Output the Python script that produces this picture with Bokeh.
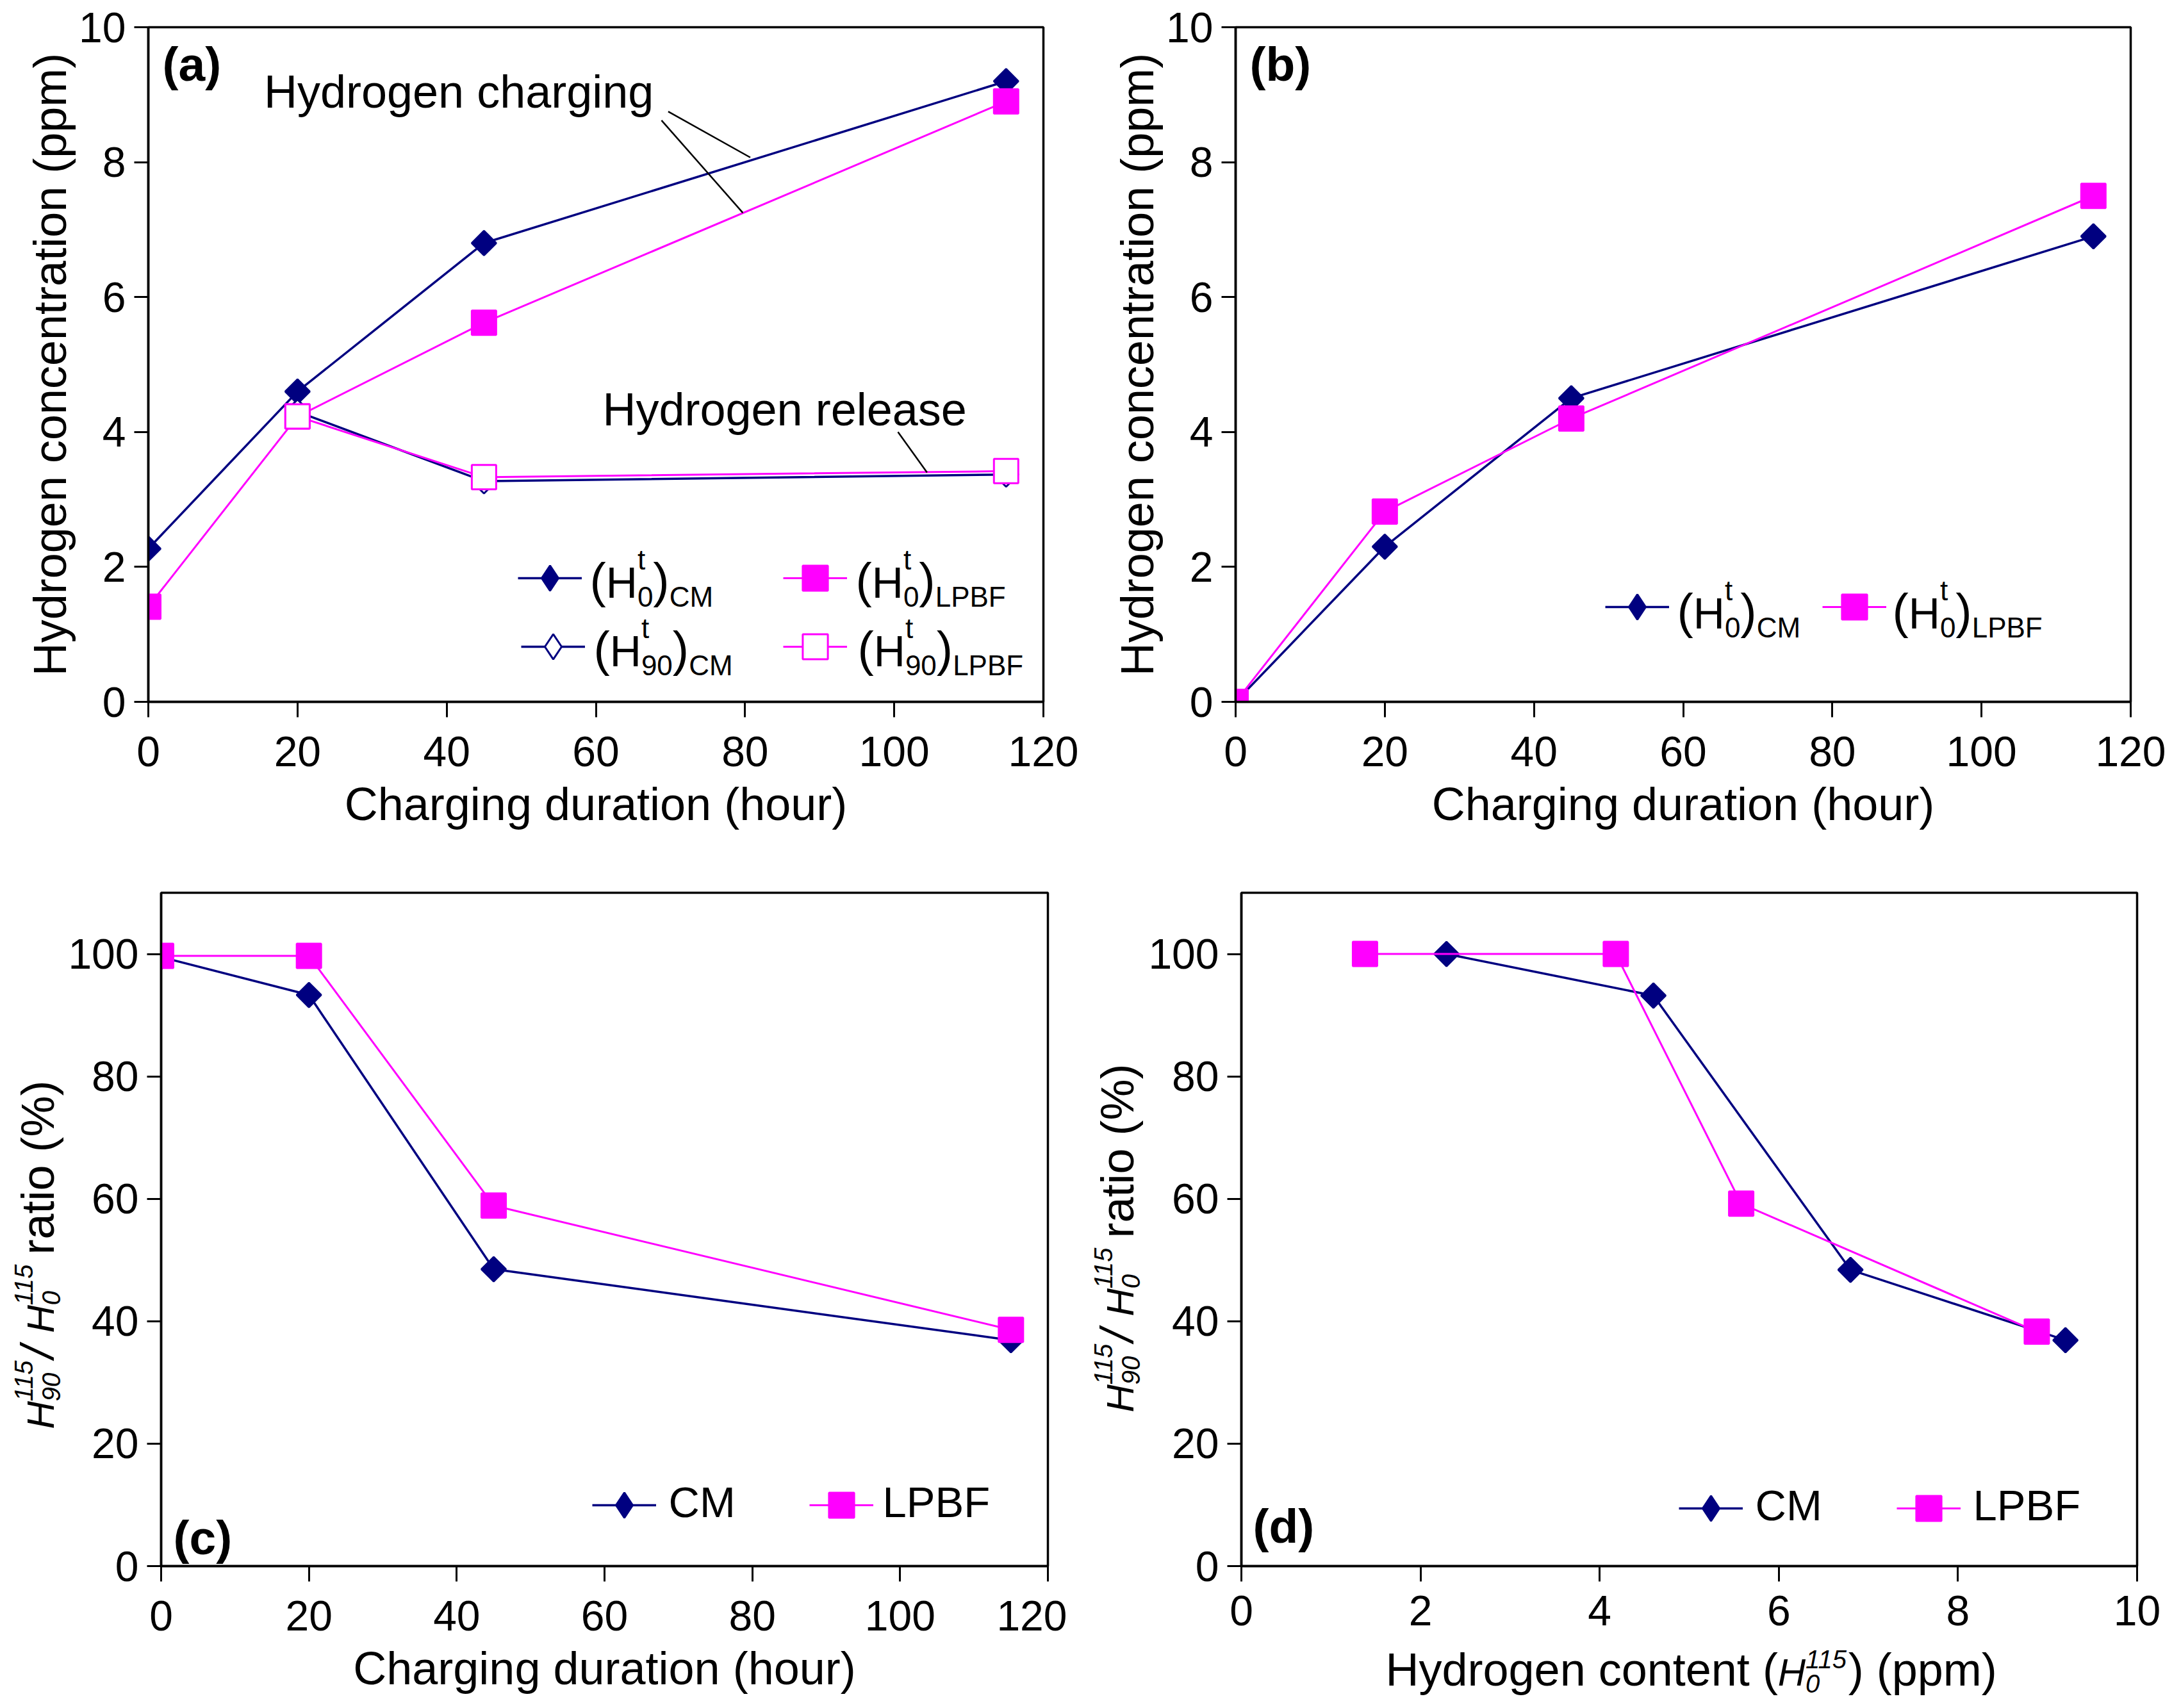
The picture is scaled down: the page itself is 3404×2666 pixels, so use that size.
import math
from bokeh.plotting import figure
from bokeh.models import Range1d, FixedTicker, Label, Arrow, Legend, LegendItem
from bokeh.layouts import column, row
from bokeh.embed import file_html
from bokeh.resources import INLINE

# ---------------- data ----------------
duration = [0, 20, 45, 115]
duration_release = [20, 45, 115]
a_h0_cm = [2.27, 4.6, 6.8, 9.2]
a_h0_lpbf = [1.41, 4.23, 5.62, 8.9]
a_h90_cm = [4.3, 3.27, 3.37]
a_h90_lpbf = [4.23, 3.33, 3.42]
b_h0_cm = [0.0, 2.3, 4.5, 6.9]
b_h0_lpbf = [0.0, 2.82, 4.2, 7.5]
c_ratio_cm = [99.5, 93.3, 48.5, 36.9]
c_ratio_lpbf = [99.7, 99.7, 58.9, 38.6]
d_content_cm = [2.29, 4.6, 6.8, 9.2]
d_ratio_cm = [100.0, 93.2, 48.4, 36.9]
d_content_lpbf = [1.38, 4.18, 5.58, 8.88]
d_ratio_lpbf = [100.0, 100.0, 59.2, 38.3]

dur_ticks = [0, 20, 40, 60, 80, 100, 120]
conc_ticks = [0, 2, 4, 6, 8, 10]
ratio_ticks = [0, 20, 40, 60, 80, 100]
content_ticks = [0, 2, 4, 6, 8, 10]

NAVY = "#000080"
MAG = "#FF00FF"
FONT = "Liberation Sans"
NAN = float("nan")

# Arial-metric advance widths (per 1000 em)
W = {' ': 278, '(': 333, ')': 333, '%': 889, '/': 278, 'B': 667, 'C': 722, 'F': 611,
     'H': 722, 'L': 556, 'M': 833, 'P': 667, 'a': 556, 'c': 500, 'd': 556, 'e': 556,
     'g': 556, 'h': 556, 'i': 222, 'l': 222, 'm': 833, 'n': 556, 'o': 556, 'p': 556,
     'r': 333, 's': 500, 't': 278, 'u': 556, 'y': 500}


def tw(s, size):
    return sum(W.get(ch, 556) for ch in s) * size / 1000.0


def put(p, x0, y0, text, size, xo, yo, style="normal", angle=0.0, color="black"):
    """(xo, yo) is the pixel offset of the text's baseline start; text drawn centred."""
    mid = 0.35 * size
    if angle == 0:
        xo2, yo2 = xo, yo + mid
    else:
        xo2, yo2 = xo - mid, yo
    p.add_layout(Label(x=x0, y=y0, x_offset=xo2, y_offset=yo2, text=text,
                       text_font=FONT, text_font_size=f"{size}px", text_font_style=style,
                       text_color=color, text_baseline="middle", text_align="left",
                       angle=angle))


def rich(p, x0, y0, pieces, ox, oy, angle=0.0, center=False):
    def adv(pc):
        if pc[0] == "t":
            return tw(pc[1], pc[2])
        if pc[0] == "gap":
            return pc[1]
        return max(tw(pc[1], pc[3]), tw(pc[2], pc[3]))
    total = sum(adv(pc) for pc in pieces)
    a = -total / 2.0 if center else 0.0

    def place(text, size, shift, style, a):
        if angle == 0:
            put(p, x0, y0, text, size, ox + a, oy + shift, style)
        else:
            put(p, x0, y0, text, size, ox - shift, oy + a, style, angle=angle)

    for pc in pieces:
        if pc[0] == "t":
            _, text, size, shift, style = pc
            place(text, size, shift, style, a)
        elif pc[0] == "s":
            _, sup, sub, size, s_up, s_dn, style = pc
            place(sup, size, s_up, style, a)
            place(sub, size, s_dn, style, a)
        a += adv(pc)


def make_fig(xr, yr, xt, yt, w, h, left, right, top, bottom):
    p = figure(width=w, height=h, x_range=Range1d(*xr), y_range=Range1d(*yr),
               output_backend="svg", toolbar_location=None,
               min_border_left=left, min_border_right=right,
               min_border_top=top, min_border_bottom=bottom)
    p.background_fill_color = "white"
    p.border_fill_color = "white"
    p.outline_line_color = "black"
    p.outline_line_width = 3.5
    p.xgrid.visible = False
    p.ygrid.visible = False
    p.xaxis.ticker = FixedTicker(ticks=xt)
    p.yaxis.ticker = FixedTicker(ticks=yt)
    for ax in p.xaxis + p.yaxis:
        ax.axis_line_width = 3.5
        ax.axis_line_color = "black"
        ax.major_tick_line_width = 3
        ax.major_tick_line_color = "black"
        ax.major_tick_in = 0
        ax.minor_tick_line_color = None
        ax.major_label_text_font = FONT
        ax.major_label_text_font_size = "66px"
        ax.major_label_text_color = "black"
        ax.axis_label_text_font = FONT
        ax.axis_label_text_font_size = "72px"
        ax.axis_label_text_font_style = "normal"
        ax.axis_label_text_color = "black"
    p.xaxis.major_tick_out = 24
    p.yaxis.major_tick_out = 22
    p.xaxis.major_label_standoff = 30
    p.yaxis.major_label_standoff = 13
    p.xaxis.axis_label_standoff = 16
    p.yaxis.axis_label_standoff = 2
    return p


def strip(w, h, fw, fh, left=0, right=0, top=0, bottom=0):
    """Text-only panel; its frame is aligned with the neighbouring plot's frame."""
    s = figure(width=w, height=h, x_range=Range1d(0, fw), y_range=Range1d(0, fh),
               output_backend="svg", toolbar_location=None,
               min_border_left=left, min_border_right=right,
               min_border_top=top, min_border_bottom=bottom,
               x_axis_type=None, y_axis_type=None)
    s.outline_line_color = None
    s.background_fill_color = "white"
    s.border_fill_color = "white"
    s.xgrid.visible = False
    s.ygrid.visible = False
    return s


def series(p, x, y, color, kind, filled=True):
    lw = 3.5 if color == NAVY else 3
    lr = p.line(x, y, line_color=color, line_width=lw)
    fill = color if filled else "white"
    if kind == "diamond":
        sr = p.scatter(x, y, marker="square", angle=math.pi / 4, size=27,
                       fill_color=fill, line_color=color, line_width=3)
    else:
        sr = p.scatter(x, y, marker="square", size=38,
                       fill_color=fill, line_color=color, line_width=3)
    return lr, sr


def legend_swatch(p, renderers, x, y):
    leg = Legend(items=[LegendItem(label=" ", renderers=renderers)], location=(x, y),
                 glyph_width=100, glyph_height=98, padding=0, margin=0, spacing=0,
                 label_standoff=0, label_width=0, label_height=0,
                 label_text_font_size="1px", border_line_color=None,
                 background_fill_color=None, background_fill_alpha=0)
    p.add_layout(leg)


def diamond_legend_glyph(p, filled=True):
    # legend-only glyph (its single point is NaN, so nothing is drawn in the plot)
    return p.scatter(x=[NAN], y=[NAN], marker="diamond", fill_color=NAVY if filled else "white",
                     line_color=NAVY, line_width=3)


def leg_text(p, ox, oy, sub0, name):
    pieces = [("t", "(", 76, 0, "normal"), ("t", "H", 68, 0, "normal"),
              ("s", "t", sub0, 44, 44, -14, "normal"), ("t", ")", 76, 0, "normal"),
              ("t", name, 44, -14, "normal")]
    rich(p, 0, 0, pieces, ox, oy)


# ---------------- panel (a) ----------------
pa = make_fig((0, 120), (0, 10), dur_ticks, conc_ticks, 1690, 1326, 231, 62, 42, 231)
pa.xaxis.axis_label = "Charging duration (hour)"
pa.yaxis.axis_label = "Hydrogen concentration (ppm)"
a1 = series(pa, duration, a_h0_cm, NAVY, "diamond")
a2 = series(pa, duration, a_h0_lpbf, MAG, "square")
a3 = series(pa, duration_release, a_h90_cm, NAVY, "diamond", filled=False)
a4 = series(pa, duration_release, a_h90_lpbf, MAG, "square", filled=False)
dg1 = diamond_legend_glyph(pa, True)
dg2 = diamond_legend_glyph(pa, False)
legend_swatch(pa, [a1[0], dg1], 577, 193 - 49)
legend_swatch(pa, [a3[0], dg2], 582, 86 - 49)
legend_swatch(pa, [a2[0], a2[1]], 991, 193 - 49)
legend_swatch(pa, [a4[0], a4[1]], 991, 86 - 49)
leg_text(pa, 689, 163, "0", "CM")
leg_text(pa, 695, 56, "90", "CM")
leg_text(pa, 1104, 163, "0", "LPBF")
leg_text(pa, 1107, 56, "90", "LPBF")
put(pa, 0, 0, "(a)", 75, 22, 969, style="bold")
put(pa, 15.5, 8.81, "Hydrogen charging", 72, 0, 0)
put(pa, 60.9, 4.1, "Hydrogen release", 72, 0, 0)
for (xs, ys, xe, ye) in [(69.7, 8.75, 80.7, 8.07), (68.8, 8.62, 79.7, 7.25), (100.5, 4.0, 104.4, 3.40)]:
    pa.add_layout(Arrow(end=None, x_start=xs, y_start=ys, x_end=xe, y_end=ye,
                        line_color="black", line_width=2.5))

# ---------------- panel (b) ----------------
pb = make_fig((0, 120), (0, 10), dur_ticks, conc_ticks, 1690, 1326, 238, 55, 42, 231)
pb.xaxis.axis_label = "Charging duration (hour)"
pb.yaxis.axis_label = "Hydrogen concentration (ppm)"
b1 = series(pb, duration, b_h0_cm, NAVY, "diamond")
b2 = series(pb, duration, b_h0_lpbf, MAG, "square")
dgb = diamond_legend_glyph(pb, True)
legend_swatch(pb, [b1[0], dgb], 577, 148 - 49)
legend_swatch(pb, [b2[0], b2[1]], 916, 148 - 49)
leg_text(pb, 689, 115, "0", "CM")
leg_text(pb, 1025, 115, "0", "LPBF")
put(pb, 0, 0, "(b)", 75, 22, 969, style="bold")

# ---------------- row 2 geometry ----------------
H2 = 1324
TOP2, FH2, BOT2 = 67, 1051, 206
ratio_label = [("t", "H", 60, 0, "italic"), ("s", "115", "90", 40, 34, -9, "italic"),
               ("t", "/ ", 72, 0, "italic"), ("t", "H", 60, 0, "italic"),
               ("s", "115", "0", 40, 34, -9, "italic"), ("gap", 12),
               ("t", " ratio (%)", 72, 0, "normal")]

# strip holding the y title of (c)
sc = strip(103, H2, 103, FH2, top=TOP2, bottom=BOT2)
rich(sc, 84, 496, ratio_label, 0, 0, angle=math.pi / 2, center=True)

# ---------------- panel (c) ----------------
pc = make_fig((0, 120), (0, 110), dur_ticks, ratio_ticks, 146 + 1386 + 30, H2, 146, 30, TOP2, BOT2)
pc.xaxis.axis_label = "Charging duration (hour)"
c1 = series(pc, duration, c_ratio_cm, NAVY, "diamond")
c2 = series(pc, duration, c_ratio_lpbf, MAG, "square")
dgc = diamond_legend_glyph(pc, True)
legend_swatch(pc, [c1[0], dgc], 673, 95 - 49)
legend_swatch(pc, [c2[0], c2[1]], 1012, 95 - 49)
put(pc, 0, 0, "CM", 67, 792, 77)
put(pc, 0, 0, "LPBF", 67, 1126, 77)
put(pc, 0, 0, "(c)", 75, 19, 18, style="bold")

# strip holding the y title of (d)
sd = strip(124, H2, 124, FH2, top=TOP2, bottom=BOT2)
rich(sd, 104, 522, ratio_label, 0, 0, angle=math.pi / 2, center=True)

# ---------------- panel (d) ----------------
PD_W = 146 + 1400 + 45
PD_H = TOP2 + FH2 + 120
pd_ = make_fig((0, 10), (0, 110), content_ticks, ratio_ticks, PD_W, PD_H, 146, 45, TOP2, 120)
pd_.xaxis.major_label_standoff = 22
d1 = series(pd_, d_content_cm, d_ratio_cm, NAVY, "diamond")
d2 = series(pd_, d_content_lpbf, d_ratio_lpbf, MAG, "square")
dgd = diamond_legend_glyph(pd_, True)
legend_swatch(pd_, [d1[0], dgd], 683, 90 - 49)
legend_swatch(pd_, [d2[0], d2[1]], 1023, 90 - 49)
put(pd_, 0, 0, "CM", 67, 802, 72)
put(pd_, 0, 0, "LPBF", 67, 1142, 72)
put(pd_, 0, 0, "(d)", 75, 18, 36, style="bold")

# strip holding the x title of (d) (frame aligned with the (d) frame)
SDX_H = H2 - PD_H
sdx = strip(PD_W, SDX_H, 1400, SDX_H, left=146, right=45)
content_label = [("t", "Hydrogen content (", 72, 0, "normal"), ("t", "H", 60, 0, "italic"),
                 ("s", "115", "0", 40, 28, -10, "italic"), ("t", ") (ppm)", 72, 0, "normal")]
rich(sdx, 0, 0, content_label, 225, 19)

layout = column(row(pa, pb), row(sc, pc, sd, column(pd_, sdx)))
open("out.html", "w").write(file_html(layout, INLINE))
